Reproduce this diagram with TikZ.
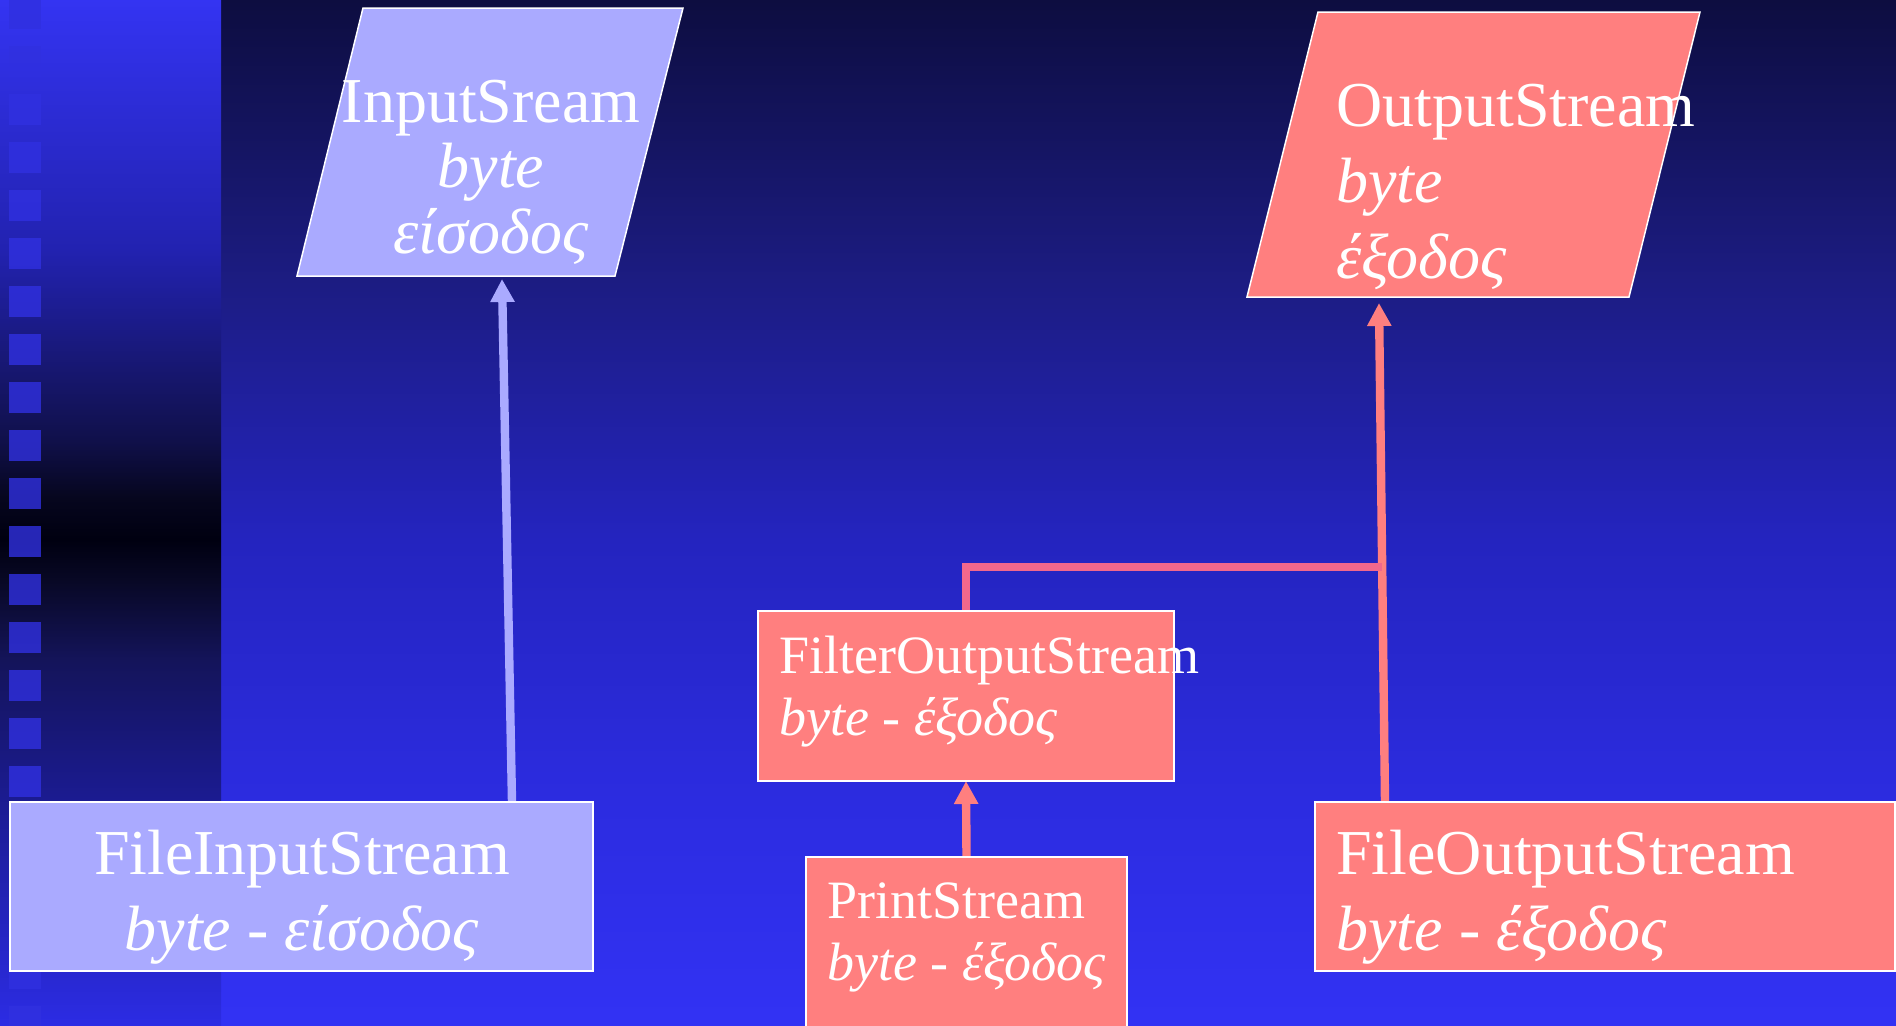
\documentclass[tikz,border=0pt]{standalone}
\usepackage{fontspec}
\setmainfont{Liberation Serif}
\usepackage{xcolor}
\usepackage{tikz}
\usetikzlibrary{arrows.meta}
\usetikzlibrary{calc}

\definecolor{inbox}{HTML}{AAAAFF}
\definecolor{outbox}{HTML}{FF7F7F}
\definecolor{elbowpink}{HTML}{F2688C}
\definecolor{bgA}{HTML}{3232F4}
\definecolor{bgB}{HTML}{2C2CE0}
\definecolor{bgC}{HTML}{2424BF}
\definecolor{bgD}{HTML}{1C1C82}
\definecolor{bgE}{HTML}{0D0D40}
\definecolor{stA}{HTML}{2C2CE4}
\definecolor{stB}{HTML}{1A1A8A}
\definecolor{stC}{HTML}{14145A}
\definecolor{stD}{HTML}{080825}
\definecolor{stE}{HTML}{000010}
\definecolor{stF}{HTML}{06061E}
\definecolor{stG}{HTML}{10104A}
\definecolor{stH}{HTML}{2222B0}
\definecolor{stI}{HTML}{3434F2}
\definecolor{stripsq}{HTML}{3030E0}

\pgfdeclareverticalshading{slidebg}{100bp}{color(0bp)=(bgA); color(25bp)=(bgA);
  color(36bp)=(bgB); color(48.7bp)=(bgC); color(61.3bp)=(bgD); color(75bp)=(bgE); color(100bp)=(bgE)}
\pgfdeclareverticalshading{stripbg}{100bp}{color(0bp)=(stA); color(25bp)=(stA);
  color(36.9bp)=(stB); color(42.8bp)=(stC); color(46.7bp)=(stD); color(48.7bp)=(stE);
  color(50.7bp)=(stF); color(53.5bp)=(stG); color(62.8bp)=(stH); color(75bp)=(stI); color(100bp)=(stI)}

\begin{document}
\begin{tikzpicture}[x=0.5pt,y=-0.5pt,
    inbg/.style={fill=inbox,draw=white,line width=0.75pt},
    outbg/.style={fill=outbox,draw=white,line width=0.75pt},
    boxnode/.style={rectangle,anchor=north west,outer sep=0pt,inner sep=0pt},
    bigtxt/.style={text=white,inner sep=0pt,font=\fontsize{32}{38}\selectfont},
    smalltxt/.style={text=white,inner sep=0pt,font=\fontsize{27}{31}\selectfont},
    inline/.style={draw=inbox,line width=4.2pt,-{Triangle[length=11.5pt,width=11.5pt]}},
    outline/.style={draw=outbox,line width=4.2pt,-{Triangle[length=11.5pt,width=11.5pt]}}]
  \useasboundingbox (0,0) rectangle (1896,1025);
  \clip (0,0) rectangle (1896,1025);
  \shade[shading=slidebg] (221,0) rectangle (1896,1025);
  \shade[shading=stripbg] (0,0) rectangle (221,1025);
  \foreach \k in {0,...,21}
  {
    \fill[stripsq,opacity=0.8] (9,{-2+48*\k}) rectangle (41,{29+48*\k});
  }

  \draw[inbg] (363,8) -- (683,8) -- (615,276) -- (297,276) -- cycle;
  \draw[outbg] (1318,12) -- (1700,12) -- (1629,297) -- (1247,297) -- cycle;
  \coordinate (insfoot) at (502,279);
  \coordinate (outsfoot) at (1379,303);
  \coordinate (join) at (1382,567);

  \node[boxnode,minimum width=291.5pt,minimum height=84.5pt] (fis) at (10,802) {};
  \node[boxnode,minimum width=208pt,minimum height=85pt] (filt) at (758,611) {};
  \node[boxnode,minimum width=160.5pt,minimum height=100pt] (prs) at (806,857) {};
  \node[boxnode,minimum width=290pt,minimum height=84.5pt] (fos) at (1315,802) {};

  \draw[inline] ($(fis.north west)+(502,0)$) -- (insfoot);
  \draw[outline] ($(fos.north west)+(70,0)$) -- (outsfoot);
  \draw[elbowpink,line width=4.2pt] (filt.north) |- (join);
  \draw[outline] (prs.north) -- (filt.south);

  \draw[inbg] (fis.north west) rectangle (fis.south east);
  \draw[outbg] (filt.north west) rectangle (filt.south east);
  \draw[outbg] (prs.north west) rectangle (prs.south east);
  \draw[outbg] (fos.north west) rectangle (fos.south east);

  \node[bigtxt,anchor=base,align=center,font=\fontsize{32}{32.75}\selectfont] (instxt) at (491,253)
    {InputSream\\\textit{byte}\\\textit{είσοδος}};
  \node[bigtxt,anchor=base west,align=left] (outstxt) at (1336,278)
    {OutputStream\\\textit{byte}\\\textit{έξοδος}};
  \node[bigtxt,anchor=base,align=center] (fistxt) at (302,950)
    {FileInputStream\\\textit{byte - είσοδος}};
  \node[smalltxt,anchor=base west,align=left] (filttxt) at (779,735)
    {FilterOutputStream\\\textit{byte - έξοδος}};
  \node[smalltxt,anchor=base west,align=left] (prstxt) at (827,980)
    {PrintStream\\\textit{byte - έξοδος}};
  \node[bigtxt,anchor=base west,align=left] (fostxt) at (1336,950)
    {FileOutputStream\\\textit{byte - έξοδος}};
\end{tikzpicture}
\end{document}
